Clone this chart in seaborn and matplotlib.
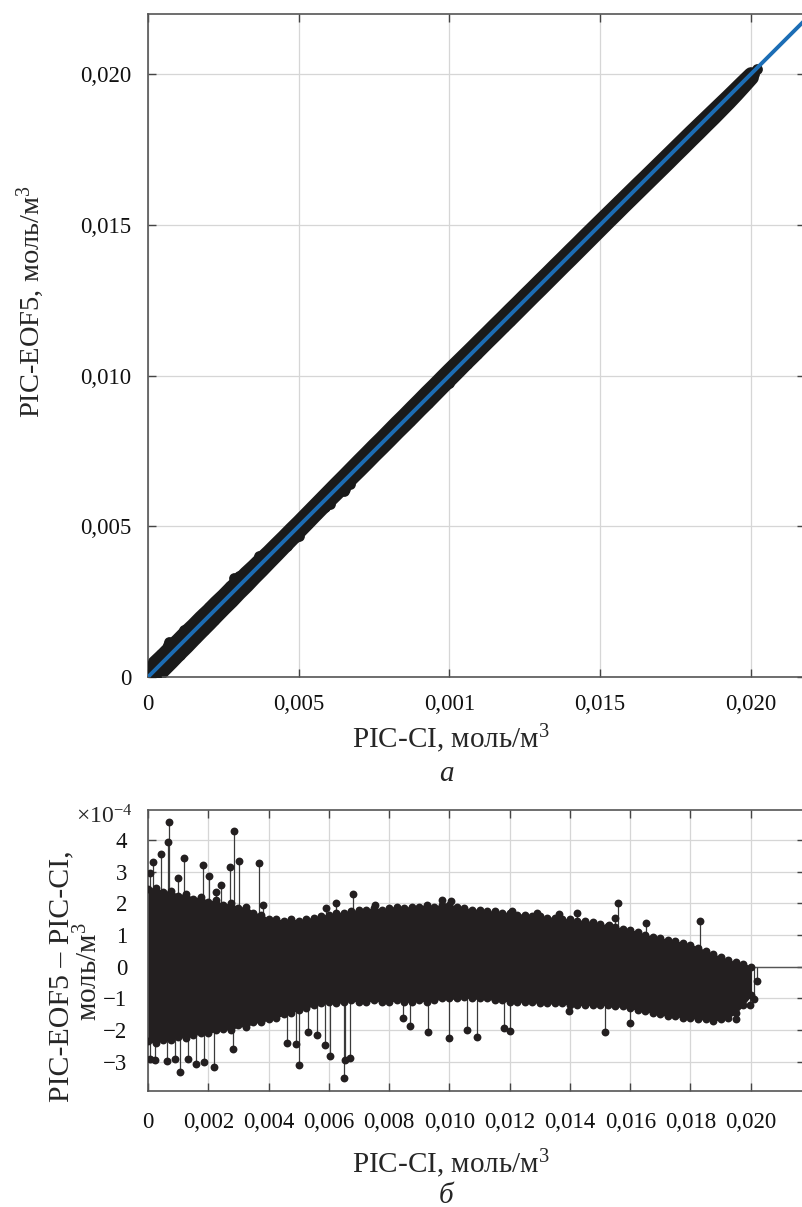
import numpy as np
import pandas as pd
import matplotlib
matplotlib.use("Agg")
import matplotlib.pyplot as plt
import seaborn as sns

# ---------------- data ----------------
# envelope of the dense residual band: PIC-CI (mol/m3) and residual (x1e-4 mol/m3)
env_x = [0.00000, 0.00025, 0.00050, 0.00075, 0.00100, 0.00125, 0.00150, 0.00175,
         0.00200, 0.00225, 0.00250, 0.00275, 0.00300, 0.00325, 0.00350, 0.00375,
         0.00400, 0.00425, 0.00450, 0.00475, 0.00500, 0.00525, 0.00550, 0.00575,
         0.00600, 0.00625, 0.00650, 0.00675, 0.00700, 0.00725, 0.00750, 0.00775,
         0.00800, 0.00825, 0.00850, 0.00875, 0.00900, 0.00925, 0.00950, 0.00975,
         0.01000, 0.01025, 0.01050, 0.01075, 0.01100, 0.01125, 0.01150, 0.01175,
         0.01200, 0.01225, 0.01250, 0.01275, 0.01300, 0.01325, 0.01350, 0.01375,
         0.01400, 0.01425, 0.01450, 0.01475, 0.01500, 0.01525, 0.01550, 0.01575,
         0.01600, 0.01625, 0.01650, 0.01675, 0.01700, 0.01725, 0.01750, 0.01775,
         0.01800, 0.01825, 0.01850, 0.01875, 0.01900, 0.01925, 0.01950, 0.01975,
         0.02000]
env_upper = [2.45, 2.50, 2.35, 2.40, 2.25, 2.30, 2.15, 2.20, 2.05, 2.10, 1.95, 2.00,
             1.85, 1.90, 1.70, 1.65, 1.50, 1.50, 1.45, 1.50, 1.45, 1.50, 1.55, 1.60,
             1.65, 1.70, 1.70, 1.75, 1.80, 1.80, 1.85, 1.80, 1.85, 1.90, 1.85, 1.90,
             1.90, 1.95, 1.90, 1.95, 1.95, 1.90, 1.85, 1.80, 1.80, 1.75, 1.75, 1.70,
             1.70, 1.65, 1.65, 1.60, 1.60, 1.55, 1.55, 1.50, 1.50, 1.45, 1.45, 1.40,
             1.35, 1.30, 1.25, 1.20, 1.15, 1.10, 1.00, 0.95, 0.90, 0.85, 0.80, 0.75,
             0.70, 0.60, 0.50, 0.40, 0.30, 0.20, 0.15, 0.10, 0.00]
env_lower = [-2.35, -2.40, -2.30, -2.30, -2.20, -2.25, -2.15, -2.10, -2.10, -2.00,
             -1.95, -2.00, -1.85, -1.90, -1.75, -1.75, -1.65, -1.60, -1.50, -1.45,
             -1.35, -1.30, -1.20, -1.15, -1.10, -1.15, -1.10, -1.05, -1.10, -1.10,
             -1.05, -1.10, -1.10, -1.05, -1.10, -1.10, -1.05, -1.10, -1.05, -1.00,
             -1.00, -1.00, -0.95, -1.00, -1.00, -1.00, -1.05, -1.05, -1.10, -1.10,
             -1.10, -1.10, -1.15, -1.15, -1.15, -1.15, -1.20, -1.20, -1.20, -1.20,
             -1.20, -1.20, -1.25, -1.25, -1.30, -1.35, -1.40, -1.45, -1.50, -1.55,
             -1.55, -1.60, -1.60, -1.65, -1.65, -1.70, -1.65, -1.60, -1.45, -1.20,
             -0.90]

# isolated points sticking out of the band
out_x = [0.00007, 0.00017, 0.00042, 0.00071, 0.00068, 0.00100, 0.00120, 0.00181,
         0.00203, 0.00227, 0.00243, 0.00271, 0.00284, 0.00301, 0.00368, 0.00381,
         0.00590, 0.00623, 0.00679, 0.00753, 0.00976, 0.01004, 0.01207, 0.01290,
         0.01364, 0.01423, 0.01529, 0.01548, 0.01559, 0.01654, 0.01832,
         0.00007, 0.00023, 0.00063, 0.00090, 0.00107, 0.00133, 0.00160, 0.00187,
         0.00220, 0.00283, 0.00460, 0.00490, 0.00500, 0.00531, 0.00562, 0.00588,
         0.00603, 0.00651, 0.00653, 0.00670, 0.00846, 0.00868, 0.00929, 0.00998,
         0.01057, 0.01093, 0.01181, 0.01201, 0.01396, 0.01518, 0.01599, 0.01951,
         0.01996, 0.02012, 0.02021]
out_v = [2.96, 3.32, 3.55, 4.56, 3.93, 2.80, 3.44, 3.21, 2.86, 2.36, 2.58, 3.16,
         4.30, 3.35, 3.27, 1.95, 1.87, 2.00, 2.29, 1.95, 2.10, 2.07, 1.75, 1.69,
         1.66, 1.69, 1.32, 1.53, 2.00, 1.37, 1.44,
         -2.90, -2.93, -2.96, -2.90, -3.33, -2.90, -3.07, -3.00, -3.15, -2.60,
         -2.40, -2.45, -3.10, -2.05, -2.15, -2.47, -2.83, -3.52, -2.94, -2.87,
         -1.60, -1.86, -2.05, -2.24, -2.00, -2.20, -1.94, -2.03, -1.40, -2.05,
         -1.76, -1.65, -1.20, -1.01, -0.44]

SCALE = 1e-4
fit_x = [0.0, 0.022]
fit_y = [0.0, 0.022]

top_xticks = [0.0, 0.005, 0.010, 0.015, 0.020]
top_xlabels = ["0", "0,005", "0,001", "0,015", "0,020"]
top_yticks = [0.0, 0.005, 0.010, 0.015, 0.020]
top_ylabels = ["0", "0,005", "0,010", "0,015", "0,020"]
bot_xticks = [0.0, 0.002, 0.004, 0.006, 0.008, 0.010, 0.012, 0.014, 0.016, 0.018, 0.020]
bot_xlabels = ["0", "0,002", "0,004", "0,006", "0,008", "0,010", "0,012", "0,014",
               "0,016", "0,018", "0,020"]
bot_yticks = [-3, -2, -1, 0, 1, 2, 3, 4]
bot_ylabels = ["\u22123", "\u22122", "\u22121", "0", "1", "2", "3", "4"]

# ---------------- style ----------------
sns.set_theme(style="white")
plt.rcParams["font.family"] = ["Liberation Serif", "DejaVu Serif"]
plt.rcParams["mathtext.fontset"] = "custom"
plt.rcParams["mathtext.rm"] = "Liberation Serif"
plt.rcParams["mathtext.it"] = "Liberation Serif:italic"

BLUE = "#1c6db5"
DARK = "#231f20"

W, H = 803, 1207
fig = plt.figure(figsize=(W / 100, H / 100), dpi=100)


def rect(l, t, r, b):
    return [l / W, 1 - b / H, (r - l) / W, (b - t) / H]


ax1 = fig.add_axes(rect(148, 14, 805, 677))
ax2 = fig.add_axes(rect(148, 810, 805, 1091))

all_x = np.array(env_x + env_x + out_x)
all_v = np.array(env_upper + env_lower + out_v)
ex = np.array(env_x)
eu = np.array(env_upper)
el = np.array(env_lower)

# ---------------- top panel ----------------
ax1.fill_between(ex, ex + el * SCALE, ex + eu * SCALE, facecolor="k",
                 edgecolor="k", linewidth=11, zorder=2)
top_df = pd.DataFrame({"x": all_x, "y": all_x + all_v * SCALE})
sns.scatterplot(data=top_df, x="x", y="y", ax=ax1, color="k", s=60,
                linewidth=0, zorder=3, legend=False)
sns.lineplot(x=fit_x, y=fit_y, ax=ax1, color=BLUE, linewidth=2.8, zorder=4)
ax1.set_xlim(0, 0.0218)
ax1.set_ylim(0, 0.022)
ax1.set_xticks(top_xticks)
ax1.set_xticklabels(top_xlabels)
ax1.set_yticks(top_yticks)
ax1.set_yticklabels(top_ylabels)

# ---------------- bottom panel ----------------
ax2.axhline(0, color="#555555", linewidth=1.0, zorder=1.5)
ax2.vlines(all_x, 0, all_v, color="#3a3a3a", linewidth=0.9, zorder=2)
ax2.fill_between(ex, el, eu, facecolor=DARK, edgecolor=DARK, linewidth=1.0,
                 zorder=2.5)
bot_df = pd.DataFrame({"x": all_x, "v": all_v})
sns.scatterplot(data=bot_df, x="x", y="v", ax=ax2, color=DARK, s=32,
                linewidth=0, zorder=3, legend=False)
ax2.set_xlim(0, 0.0218)
ax2.set_ylim(-3.92, 4.95)
ax2.set_xticks(bot_xticks)
ax2.set_xticklabels(bot_xlabels)
ax2.set_yticks(bot_yticks)
ax2.set_yticklabels(bot_ylabels)

for ax, pad in ((ax1, 12), (ax2, 15)):
    ax.set_xlabel("")
    ax.set_ylabel("")
    ax.tick_params(direction="in", length=6, width=1, color="#444444",
                   top=True, right=True, bottom=True, left=True,
                   labelsize=16.5, pad=pad, labelcolor="#111111")
    ax.grid(True, color="#d6d6d6", linewidth=0.9)
    ax.set_axisbelow(True)
    for s in ax.spines.values():
        s.set_color("#555555")
        s.set_linewidth(1.2)

# ---------------- labels ----------------
fig.text(30 / W, 1 - 302 / H, "PIC-EOF5, моль/м$^3$", rotation=90,
         ha="center", va="center", fontsize=20.5)
fig.text(451 / W, 1 - 748 / H, "PIC-CI, моль/м$^3$", ha="center",
         va="baseline", fontsize=21)
fig.text(446 / W, 1 - 781 / H, "а", ha="center", va="baseline",
         fontsize=21, style="italic")

fig.text(61 / W, 1 - 976 / H, "PIC-EOF5 \u2013 PIC-CI,", rotation=90,
         ha="center", va="center", fontsize=21.5)
fig.text(89 / W, 1 - 972 / H, "моль/м$^3$", rotation=90,
         ha="center", va="center", fontsize=21)
fig.text(76 / W, 1 - 823 / H, "×10$^{-4}$", ha="left", va="baseline",
         fontsize=17)
fig.text(451 / W, 1 - 1173 / H, "PIC-CI, моль/м$^3$", ha="center",
         va="baseline", fontsize=21)
fig.text(446 / W, 1 - 1203 / H, "б", ha="center", va="baseline",
         fontsize=21, style="italic")

fig.savefig("out.png", dpi=100)
